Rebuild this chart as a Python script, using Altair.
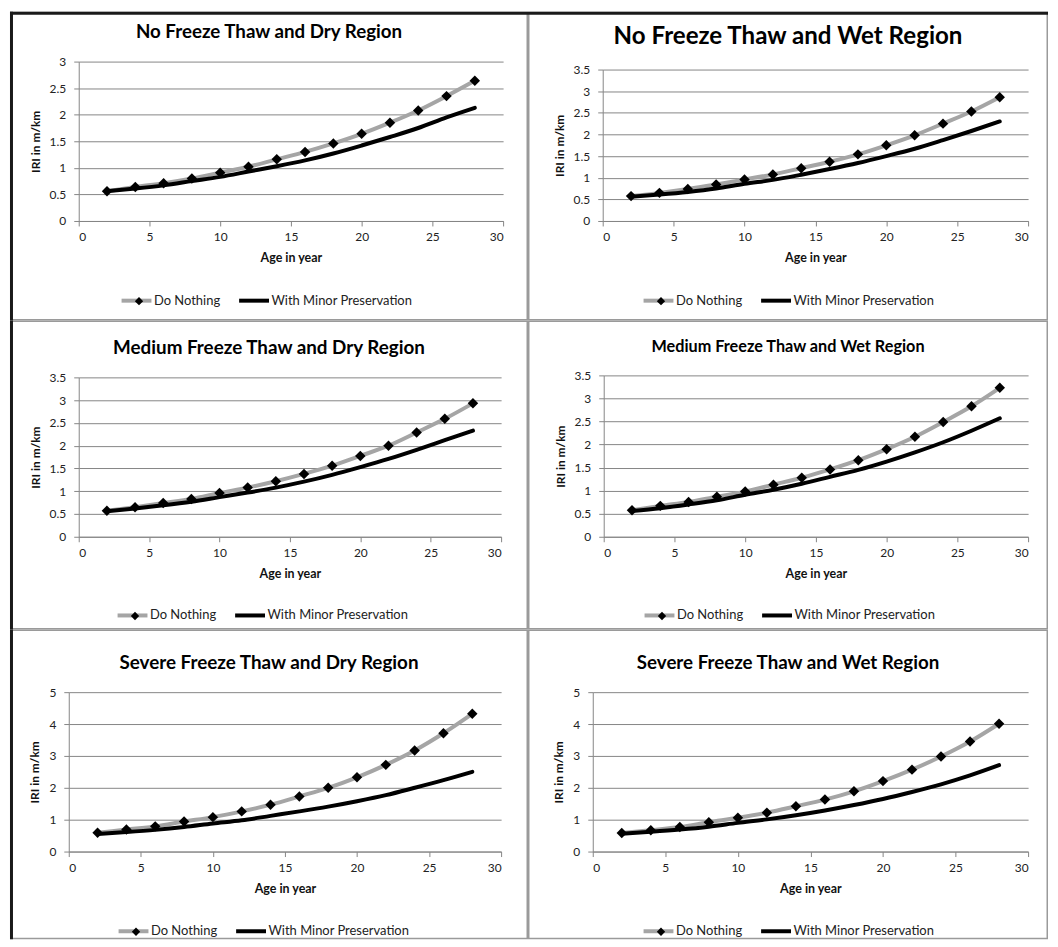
import altair as alt
import pandas as pd

AGE = [2, 4, 6, 8, 10, 12, 14, 16, 18, 20, 22, 24, 26, 28]
SERIES = ["Do Nothing", "With Minor Preservation"]

TITLES = [
    "No Freeze Thaw and Dry Region",
    "No Freeze Thaw and Wet Region",
    "Medium Freeze Thaw and Dry Region",
    "Medium Freeze Thaw and Wet Region",
    "Severe Freeze Thaw and Dry Region",
    "Severe Freeze Thaw and Wet Region",
]

DO_NOTHING = [
    [0.56, 0.64, 0.71, 0.80, 0.91, 1.02, 1.16, 1.30, 1.46, 1.64, 1.85, 2.08, 2.35, 2.64],
    [0.575, 0.65, 0.74, 0.845, 0.96, 1.075, 1.22, 1.37, 1.54, 1.75, 1.98, 2.25, 2.53, 2.86],
    [0.57, 0.65, 0.74, 0.83, 0.96, 1.08, 1.22, 1.38, 1.56, 1.775, 2.00, 2.29, 2.59, 2.93],
    [0.576, 0.67, 0.756, 0.87, 0.98, 1.13, 1.28, 1.46, 1.66, 1.90, 2.17, 2.49, 2.83, 3.23],
    [0.59, 0.69, 0.79, 0.94, 1.08, 1.26, 1.47, 1.73, 2.00, 2.33, 2.72, 3.17, 3.71, 4.32],
    [0.58, 0.67, 0.77, 0.92, 1.06, 1.22, 1.42, 1.63, 1.89, 2.21, 2.57, 2.98, 3.45, 4.01],
]

MINOR = [
    [0.56, 0.61, 0.67, 0.75, 0.83, 0.93, 1.03, 1.14, 1.27, 1.42, 1.58, 1.75, 1.95, 2.13],
    [0.56, 0.61, 0.67, 0.75, 0.86, 0.95, 1.07, 1.20, 1.34, 1.50, 1.67, 1.87, 2.08, 2.30],
    [0.56, 0.62, 0.69, 0.77, 0.87, 0.97, 1.08, 1.21, 1.36, 1.53, 1.71, 1.91, 2.12, 2.33],
    [0.56, 0.62, 0.70, 0.79, 0.91, 1.02, 1.15, 1.30, 1.45, 1.63, 1.83, 2.05, 2.30, 2.57],
    [0.55, 0.61, 0.68, 0.77, 0.88, 0.98, 1.12, 1.26, 1.41, 1.58, 1.77, 2.00, 2.24, 2.50],
    [0.56, 0.62, 0.69, 0.78, 0.90, 1.01, 1.14, 1.29, 1.46, 1.65, 1.87, 2.11, 2.39, 2.71],
]

Y_MAX = [3, 3.5, 3.5, 3.5, 5, 5]
Y_STEP = [0.5, 0.5, 0.5, 0.5, 1, 1]
X_TICKS = [0, 5, 10, 15, 20, 25, 30]

# panel geometry inside each framed cell (px): plot offset/size, title size & baseline, legend spot
GEOM = [
    dict(L=69, W=426, R=25, T=50, H=160, B=100, fs=18.8, tb=26.0, lx=43, ly=240),
    dict(L=75, W=427, R=20, T=58, H=152, B=100, fs=24.2, tb=32.0, lx=41, ly=232),
    dict(L=69, W=424, R=27, T=57, H=160, B=93, fs=18.9, tb=33.3, lx=39, ly=239),
    dict(L=76, W=426, R=20, T=55, H=162, B=93, fs=16.3, tb=31.7, lx=41, ly=241),
    dict(L=59, W=434, R=27, T=63, H=160, B=88, fs=18.9, tb=39.3, lx=50, ly=240),
    dict(L=65, W=437, R=20, T=63, H=160, B=88, fs=18.8, tb=39.3, lx=51, ly=240),
]

FONT = "Lato"
GRAY_LINE = "#A5A5A5"
AXIS_GRAY = "#868686"
FRAME_GRAY = "#9A9A9A"


def panel(i):
    g = GEOM[i]
    cw = g["L"] + g["W"] + g["R"]
    ch = g["T"] + g["H"] + g["B"]
    rows = []
    for a, v in zip(AGE, DO_NOTHING[i]):
        rows.append({"age": a, "iri": v, "series": SERIES[0]})
    for a, v in zip(AGE, MINOR[i]):
        rows.append({"age": a, "iri": v, "series": SERIES[1]})
    df = pd.DataFrame(rows)
    dn = df[df.series == SERIES[0]].assign(marker=SERIES[0])

    yvals = []
    k = 0
    while k * Y_STEP[i] <= Y_MAX[i] + 1e-9:
        yvals.append(round(k * Y_STEP[i], 2))
        k += 1

    xenc = alt.X(
        "age:Q",
        scale=alt.Scale(domain=[0, 30], nice=False, range=[g["L"], g["L"] + g["W"]]),
        axis=alt.Axis(
            values=X_TICKS, title="Age in year", grid=False, offset=-g["B"],
            domainColor=AXIS_GRAY, tickColor=AXIS_GRAY, tickSize=5, format="d",
            labelFont=FONT, labelFontSize=12, labelColor="#222222", labelPadding=6,
            titleFont=FONT, titleFontSize=12.5, titleFontWeight="bold", titleColor="#111111",
            titlePadding=9,
        ),
    )
    yenc = alt.Y(
        "iri:Q",
        scale=alt.Scale(domain=[0, Y_MAX[i]], nice=False, range=[g["T"] + g["H"], g["T"]]),
        axis=alt.Axis(
            values=yvals, title="IRI in m/km", grid=True, gridColor=AXIS_GRAY, offset=-g["L"],
            gridWidth=1, domainColor=AXIS_GRAY, tickColor=AXIS_GRAY, tickSize=5, format="~g",
            labelFont=FONT, labelFontSize=12, labelColor="#222222", labelPadding=8,
            titleFont=FONT, titleFontSize=12, titleFontWeight="bold", titleColor="#111111",
            titlePadding=7,
        ),
    )

    lx = g["L"] + g["lx"] + 8
    ly = g["T"] + g["ly"] - 7

    lines = alt.Chart(df).mark_line(strokeWidth=4, strokeCap="round", interpolate="monotone").encode(
        x=xenc,
        y=yenc,
        color=alt.Color(
            "series:N",
            scale=alt.Scale(domain=SERIES, range=[GRAY_LINE, "#000000"]),
            legend=alt.Legend(
                orient="none", legendX=lx, legendY=ly, direction="horizontal",
                title=None, padding=0, symbolType="M-3,0L3,0", symbolSize=100,
                symbolStrokeWidth=4, labelOffset=10.5, columnPadding=10,
                labelFont=FONT, labelFontSize=13, labelColor="#222222",
            ),
        ),
        order=alt.Order("age:Q"),
    )

    points = alt.Chart(dn).mark_point(filled=True, size=110, opacity=1, color="#000000").encode(
        x=xenc,
        y=yenc,
        shape=alt.Shape(
            "marker:N",
            scale=alt.Scale(domain=[SERIES[0]], range=["diamond"]),
            legend=alt.Legend(
                orient="none", legendX=lx + 5, legendY=ly + 3, title=None, padding=0,
                symbolSize=70, symbolStrokeWidth=0, symbolFillColor="#000000",
                labelExpr="''", labelFontSize=1,
            ),
        ),
    )

    one = pd.DataFrame({"k": [0]})
    frame = alt.Chart(one).mark_rect(
        fillOpacity=0, stroke=FRAME_GRAY, strokeWidth=1.5
    ).encode(
        x=alt.value(0.75), x2=alt.value(cw - 0.75),
        y=alt.value(0.75), y2=alt.value(ch - 0.75),
    )
    layers = [frame]
    if i % 2 == 0:
        layers.append(
            alt.Chart(one).mark_rule(color="#1A1A1A", strokeWidth=3).encode(
                x=alt.value(1.5), y=alt.value(0), y2=alt.value(ch)
            )
        )
    if i < 2:
        layers.append(
            alt.Chart(one).mark_rule(color="#1A1A1A", strokeWidth=3).encode(
                y=alt.value(1.5), x=alt.value(0), x2=alt.value(cw)
            )
        )
    title = alt.Chart(one).mark_text(
        text=TITLES[i], font=FONT, fontSize=g["fs"], fontWeight="bold", color="#000000",
        align="center", baseline="alphabetic",
    ).encode(x=alt.value(cw / 2), y=alt.value(g["tb"]))
    layers += [title, lines, points]

    return alt.layer(*layers).properties(width=cw, height=ch)


chart = alt.concat(
    *[panel(i) for i in range(6)], columns=2, spacing=0, bounds="flush"
).resolve_scale(
    color="independent", shape="independent", x="independent", y="independent"
).resolve_legend(color="independent", shape="independent").properties(
    padding=0, background="white"
).configure_view(strokeWidth=0)

chart.save("out.html", embed_options={"renderer": "svg", "actions": False})
